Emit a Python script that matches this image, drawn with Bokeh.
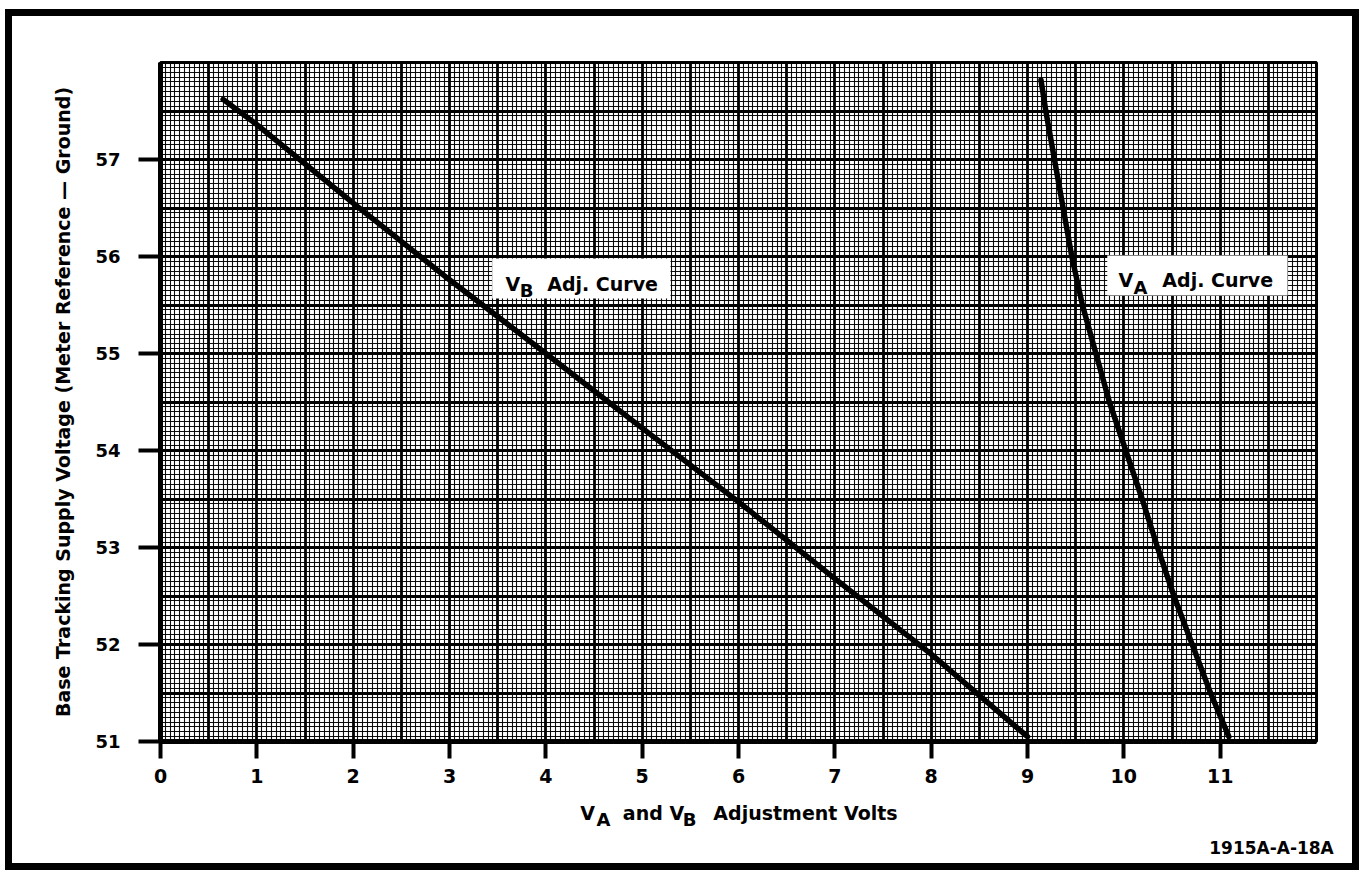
from bokeh.plotting import figure
from bokeh.models import (FixedTicker, SingleIntervalTicker, Label, BoxAnnotation, Range1d, LinearAxis)
from bokeh.embed import file_html
from bokeh.resources import INLINE

# ---- data ----
vb_x = [0.65, 1.0, 2.0, 3.0, 4.0, 5.0, 6.0, 7.0, 8.0, 9.0]
vb_y = [57.62, 57.36, 56.55, 55.76, 55.0, 54.23, 53.47, 52.68, 51.9, 51.05]
va_x = [9.14, 9.19, 9.28, 9.37, 9.46, 9.57, 9.71, 9.85, 10.02, 10.19, 10.35, 10.52, 10.71, 10.90, 11.09]
va_y = [57.82, 57.5, 57.0, 56.5, 56.0, 55.5, 55.0, 54.5, 54.0, 53.5, 53.0, 52.5, 52.0, 51.5, 51.05]
x_ticks = list(range(0, 12))
y_ticks = list(range(51, 58))
y_label = "Base Tracking Supply Voltage (Meter Reference — Ground)"
x_title_main = ["V", "and V", "Adjustment Volts"]
x_title_subs = ["A", "B"]
fig_id = "1915A-A-18A"

FONT = "DejaVu Sans"

# host box (with its 7px border) spans page x 5..1359, y 9..870;
# canvas origin at page (12,16); frame spans page x 160..1316, y 62..741
W, H = 1354, 861
p = figure(width=W, height=H, x_range=Range1d(0, 12), y_range=Range1d(51, 58),
           output_backend="svg", toolbar_location=None,
           min_border_left=148, min_border_top=46, min_border_right=50, min_border_bottom=136)
p.styles = {"border": "7px solid black", "margin-left": "5px", "margin-top": "9px"}
p.background_fill_color = "white"
p.border_fill_color = "white"
p.outline_line_color = "black"
p.outline_line_width = 3

# graph-paper grid
for g in (p.xgrid, p.ygrid):
    g.ticker = SingleIntervalTicker(interval=0.5, num_minor_ticks=10)
    g.grid_line_color = "black"
    g.grid_line_width = 2.8
    g.grid_line_alpha = 1.0
    g.minor_grid_line_color = "black"
    g.minor_grid_line_width = 1.1
    g.minor_grid_line_alpha = 0.95

xa = p.xaxis[0]
ya = p.yaxis[0]
xa.ticker = FixedTicker(ticks=x_ticks)
ya.ticker = FixedTicker(ticks=y_ticks)
for ax in (xa, ya):
    ax.axis_line_color = "black"
    ax.axis_line_width = 5
    ax.major_tick_line_color = "black"
    ax.major_tick_line_width = 4
    ax.major_tick_in = 0
    ax.minor_tick_line_color = None
    ax.major_label_text_font = FONT
    ax.major_label_text_font_style = "bold"
    ax.major_label_text_color = "black"
xa.major_label_text_font_size = "19px"
ya.major_label_text_font_size = "18px"
xa.major_tick_out = 17
xa.major_label_standoff = 10
ya.major_tick_out = 22
ya.major_label_standoff = 18

ya.axis_label = y_label
ya.axis_label_text_font = FONT
ya.axis_label_text_font_style = "bold"
ya.axis_label_text_font_size = "19px"
ya.axis_label_text_color = "black"
ya.axis_label_standoff = 18

# curves
p.line(vb_x, vb_y, line_color="black", line_width=5.5, line_cap="round")
p.line(va_x, va_y, line_color="black", line_width=5.5, line_cap="round")

# label boxes
p.add_layout(BoxAnnotation(left=3.443, right=5.294, top=55.98, bottom=55.567,
                           fill_color="white", fill_alpha=1, line_color=None))
p.add_layout(BoxAnnotation(left=9.828, right=11.70, top=56.01, bottom=55.598,
                           fill_color="white", fill_alpha=1, line_color=None))


def lab(text, x, y, size="19px"):
    p.add_layout(Label(x=x, y=y, text=text, text_font=FONT, text_font_style="bold",
                       text_font_size=size, text_align="left", text_baseline="alphabetic",
                       text_color="black"))

# V_B Adj. Curve
lab("V", 3.581, 55.719)
lab("B", 3.73, 55.649, size="18px")
lab("Adj. Curve", 4.014, 55.719)
# V_A Adj. Curve
lab("V", 9.945, 55.753)
lab("A", 10.10, 55.683, size="18px")
lab("Adj. Curve", 10.40, 55.753)

# text rows below the x axis, placed with an extra pixel-coordinate range
p.extra_x_ranges = {"px": Range1d(160, 1316)}


def text_row(labels, centers, size, standoff):
    ax = LinearAxis(x_range_name="px", ticker=FixedTicker(ticks=centers),
                    major_label_overrides={c: t for c, t in zip(centers, labels)})
    ax.axis_line_color = None
    ax.major_tick_line_color = None
    ax.minor_tick_line_color = None
    ax.major_tick_in = 0
    ax.major_tick_out = 0
    ax.major_label_standoff = standoff
    ax.major_label_text_font = FONT
    ax.major_label_text_font_style = "bold"
    ax.major_label_text_font_size = size
    ax.major_label_text_color = "black"
    p.add_layout(ax, "below")

text_row(x_title_main, [587, 653, 805], "19px", 16)
text_row(x_title_subs, [603, 689], "18px", -18)
text_row([fig_id], [1271], "17px", 5)

open("out.html", "w").write(file_html(p, INLINE))
